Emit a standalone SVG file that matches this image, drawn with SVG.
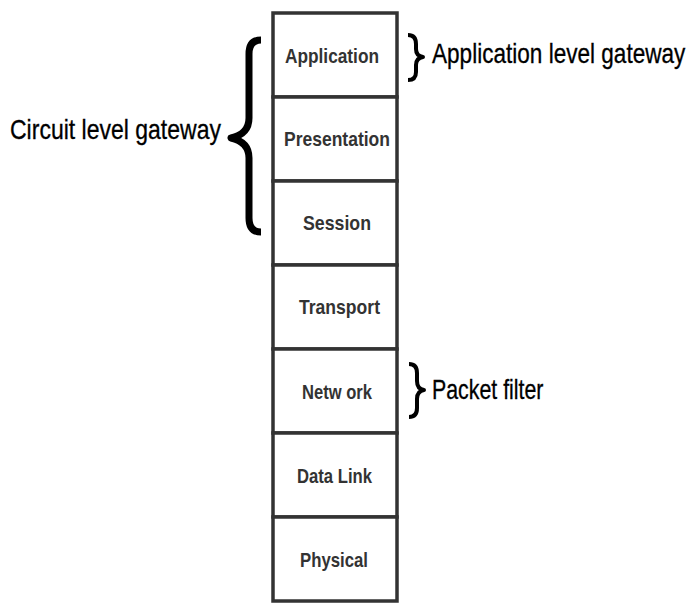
<svg xmlns="http://www.w3.org/2000/svg" width="697" height="615" viewBox="0 0 697 615">
<style>
.layer rect{fill:#fff;stroke:#333;stroke-width:3.5}
.layer text{font-family:"Liberation Sans",Arial,sans-serif;font-weight:bold;font-size:21px;fill:#333;text-anchor:start}
.lbl{font-family:"Liberation Sans",Arial,sans-serif;font-size:27px;fill:#000;stroke:#000;stroke-width:0.3}
.brace{fill:none;stroke:#000;stroke-linecap:butt;stroke-linejoin:round}
</style>
<rect width="697" height="615" fill="#fff"/>
<g id="application" class="layer"><rect x="273" y="13" width="124" height="84"/><text x="285" y="63" textLength="94" lengthAdjust="spacingAndGlyphs">Application</text></g>
<g id="presentation" class="layer"><rect x="273" y="97" width="124" height="84"/><text x="284" y="146" textLength="106" lengthAdjust="spacingAndGlyphs">Presentation</text></g>
<g id="session" class="layer"><rect x="273" y="181" width="124" height="84"/><text x="303" y="230" textLength="68" lengthAdjust="spacingAndGlyphs">Session</text></g>
<g id="transport" class="layer"><rect x="273" y="265" width="124" height="84"/><text x="299" y="314" textLength="81" lengthAdjust="spacingAndGlyphs">Transport</text></g>
<g id="network" class="layer"><rect x="273" y="349" width="124" height="84"/><text x="302" y="399" textLength="70" lengthAdjust="spacingAndGlyphs">Netw ork</text></g>
<g id="datalink" class="layer"><rect x="273" y="433" width="124" height="84"/><text x="297" y="483" textLength="75" lengthAdjust="spacingAndGlyphs">Data Link</text></g>
<g id="physical" class="layer"><rect x="273" y="517" width="124" height="84"/><text x="300" y="567" textLength="68" lengthAdjust="spacingAndGlyphs">Physical</text></g>
<g id="circuit-gateway">
<path class="brace" stroke-width="7" d="M261,40 Q249,40 249,54 L249,118 Q249,134 231,138 Q249,142 249,158 L249,218 Q249,232 261,232"/>
<text class="lbl" transform="translate(10,139) scale(0.852,1)" x="0" y="0">Circuit level gateway</text>
</g>
<g id="application-gateway">
<path class="brace" stroke-width="4" d="M408,35 Q416,35 416,44 L416,49 Q416,56 423,57 Q416,58 416,65 L416,72 Q416,80 408,80"/>
<text class="lbl" transform="translate(432,63) scale(0.836,1)" x="0" y="0">Application level gateway</text>
</g>
<g id="packet-filter">
<path class="brace" stroke-width="4" d="M409,364 Q417,364 417,373 L417,381 Q417,389 424,390 Q417,391 417,399 L417,408 Q417,417 409,417"/>
<text class="lbl" transform="translate(432,399) scale(0.79,1)" x="0" y="0">Packet filter</text>
</g>
<g id="connectors"></g>
</svg>
